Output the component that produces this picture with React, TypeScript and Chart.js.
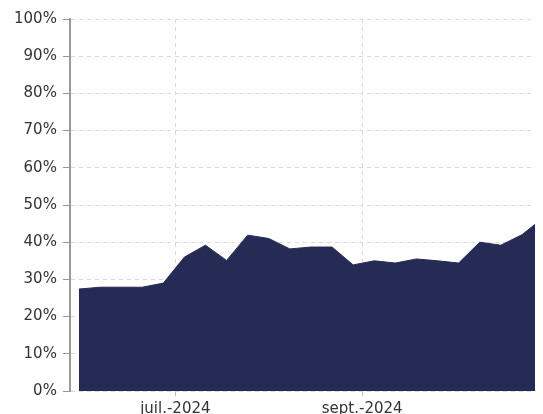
import React, { useEffect, useRef } from "react";
import { Chart, registerables } from "chart.js";

Chart.register(...registerables);

const weekDates = [
  "2024-05-30", "2024-06-06", "2024-06-13", "2024-06-20", "2024-06-27",
  "2024-07-04", "2024-07-11", "2024-07-18", "2024-07-25", "2024-08-01",
  "2024-08-08", "2024-08-15", "2024-08-22", "2024-08-29", "2024-09-05",
  "2024-09-12", "2024-09-19", "2024-09-26", "2024-10-03", "2024-10-10",
  "2024-10-17", "2024-10-24", "2024-10-31",
];
const shareValues = [
  27.4, 27.9, 27.9, 27.9, 29.0, 36.0, 39.2, 35.1, 41.9, 41.0,
  38.2, 38.7, 38.7, 33.9, 35.0, 34.4, 35.5, 35.0, 34.4, 40.0,
  39.2, 42.0, 46.5,
];
const xTickDates = ["2024-07-01", "2024-09-01"];
const xTickLabels = ["juil.-2024", "sept.-2024"];
const yTickValues = [0, 10, 20, 30, 40, 50, 60, 70, 80, 90, 100];
const axisMinDate = "2024-05-27";

const DAY = 86400000;
const base = Date.UTC(2024, 4, 30);
const toDay = (s: string) => {
  const [y, m, d] = s.split("-").map(Number);
  return (Date.UTC(y, m - 1, d) - base) / DAY;
};

export default function App() {
  const ref = useRef<HTMLCanvasElement>(null);
  useEffect(() => {
    document.documentElement.style.overflow = "hidden";
    document.body.style.overflow = "hidden";
    if (!ref.current) return;
    const tickDays = xTickDates.map(toDay);
    const chart = new Chart(ref.current, {
      type: "line",
      data: {
        datasets: [
          {
            data: weekDates.map((d, i) => ({ x: toDay(d), y: shareValues[i] })),
            fill: "origin",
            backgroundColor: "#262b55",
            borderColor: "#262b55",
            borderWidth: 1,
            pointRadius: 0,
            tension: 0,
          },
        ],
      },
      options: {
        animation: false,
        responsive: true,
        maintainAspectRatio: false,
        layout: { padding: { left: 0, top: 0, right: 0, bottom: 0 } },
        plugins: { legend: { display: false }, tooltip: { enabled: false } },
        scales: {
          x: {
            type: "linear",
            min: toDay(axisMinDate),
            max: toDay(weekDates[weekDates.length - 1]),
            afterBuildTicks: (scale: any) => {
              scale.ticks = tickDays.map((v) => ({ value: v }));
            },
            ticks: {
              autoSkip: false,
              maxRotation: 0,
              padding: 4,
              color: "#333",
              font: { family: "DejaVu Sans", size: 15 },
              callback: (v: any) => {
                const i = tickDays.indexOf(Number(v));
                return i >= 0 ? xTickLabels[i] : "";
              },
            },
            grid: {
              color: "#d9d9d9",
              lineWidth: 1,
              tickLength: 5,
              drawTicks: true,
              tickColor: "#bbb",
            },
            border: { display: false, dash: [4, 4] },
          },
          y: {
            min: 0,
            max: 100,
            afterBuildTicks: (scale: any) => {
              scale.ticks = yTickValues.map((v) => ({ value: v }));
            },
            ticks: {
              padding: 6,
              color: "#333",
              font: { family: "DejaVu Sans", size: 15 },
              callback: (v: any) => v + "%",
            },
            grid: {
              color: "#d9d9d9",
              lineWidth: 1,
              tickLength: 7,
              tickColor: "#999",
            },
            border: { display: true, color: "#999", width: 2, dash: [4, 4] },
          },
        },
      },
    });
    return () => chart.destroy();
  }, []);
  return (
    <div style={{ width: 535, height: 418, marginTop: -4, position: "relative" }}>
      <canvas ref={ref} />
    </div>
  );
}
